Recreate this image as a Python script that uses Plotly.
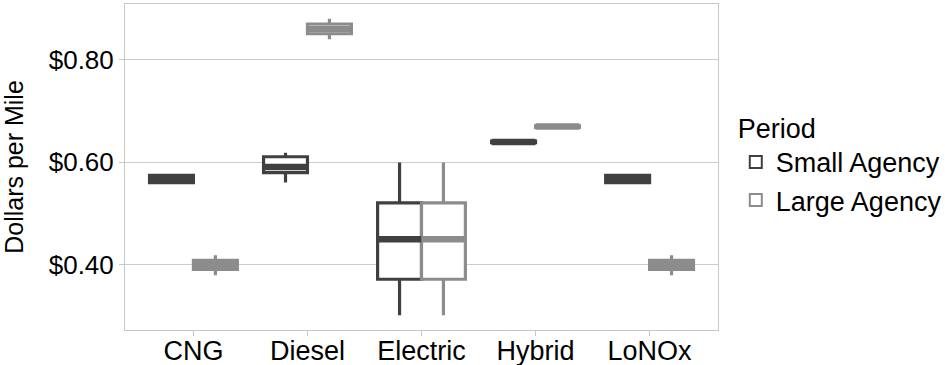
import plotly.graph_objects as go

categories = ["CNG", "Diesel", "Electric", "Hybrid", "LoNOx"]

# Small Agency box statistics
small_lower = [0.5600, 0.561, 0.302, 0.6385, 0.5600]
small_q1 = [0.5605, 0.580, 0.372, 0.6385, 0.5605]
small_median = [0.567, 0.591, 0.450, 0.640, 0.567]
small_q3 = [0.5745, 0.611, 0.521, 0.6415, 0.5745]
small_upper = [0.5750, 0.619, 0.600, 0.6415, 0.5750]

# Large Agency box statistics
large_lower = [0.380, 0.840, 0.302, 0.6685, 0.380]
large_q1 = [0.391, 0.851, 0.372, 0.6685, 0.391]
large_median = [0.400, 0.860, 0.450, 0.670, 0.400]
large_q3 = [0.409, 0.870, 0.521, 0.6715, 0.409]
large_upper = [0.419, 0.880, 0.600, 0.6715, 0.419]

series_names = ["Small Agency", "Large Agency"]
series_colors = ["#404040", "#8c8c8c"]

y_tick_values = [0.4, 0.6, 0.8]
y_tick_labels = ["$0.40", "$0.60", "$0.80"]

FONT = "Liberation Sans, Arial, sans-serif"

fig = go.Figure()
stats = [
    (small_lower, small_q1, small_median, small_q3, small_upper),
    (large_lower, large_q1, large_median, large_q3, large_upper),
]
for i, (lo, q1, med, q3, up) in enumerate(stats):
    fig.add_trace(go.Box(
        x=categories, lowerfence=lo, q1=q1, median=med, q3=q3, upperfence=up,
        name=series_names[i], offsetgroup=str(i), legendgroup=str(i),
        line=dict(color=series_colors[i], width=3.2),
        fillcolor="white", whiskerwidth=0, boxpoints=False,
        hoverinfo="skip",
    ))
# thicker median bars (ggplot style)
for i, (lo, q1, med, q3, up) in enumerate(stats):
    fig.add_trace(go.Box(
        x=categories, lowerfence=med, q1=med, median=med, q3=med, upperfence=med,
        name=series_names[i], offsetgroup=str(i), legendgroup=str(i),
        showlegend=False,
        line=dict(color=series_colors[i], width=6.5),
        fillcolor=series_colors[i], whiskerwidth=0, boxpoints=False,
        hoverinfo="skip",
    ))

fig.update_layout(
    width=945, height=365,
    margin=dict(l=125, r=227, t=4, b=35, autoexpand=False),
    paper_bgcolor="white", plot_bgcolor="white",
    boxmode="group", boxgap=0.23, boxgroupgap=0,
    font=dict(family=FONT, size=26, color="#000000"),
    showlegend=True,
    legend=dict(
        title=dict(text="Period", font=dict(size=27)),
        font=dict(size=27),
        x=1.03, xanchor="left", y=0.51, yanchor="middle",
        tracegroupgap=0, itemsizing="constant",
    ),
    xaxis=dict(
        type="category", range=[-0.6, 4.6], automargin=False,
        showgrid=False, zeroline=False,
        showline=True, mirror=True, linecolor="#c8c8c8", linewidth=1,
        ticks="outside", ticklen=5, tickcolor="#c8c8c8",
        tickfont=dict(size=27, color="#000000"),
        ticklabelstandoff=-8,
    ),
    yaxis=dict(
        range=[0.273, 0.909], automargin=False,
        tickvals=y_tick_values, ticktext=y_tick_labels,
        showgrid=True, gridcolor="#cccccc", gridwidth=1, zeroline=False,
        showline=True, mirror=True, linecolor="#c8c8c8", linewidth=1,
        ticks="outside", ticklen=5, tickcolor="#c8c8c8",
        tickfont=dict(size=26, color="#000000"),
        title=dict(text="Dollars per Mile", font=dict(size=25), standoff=18),
    ),
)

fig.write_html(
    "out.html",
    config={"displayModeBar": False},
    post_script="document.body.style.margin='0';document.body.style.padding='0';",
)
